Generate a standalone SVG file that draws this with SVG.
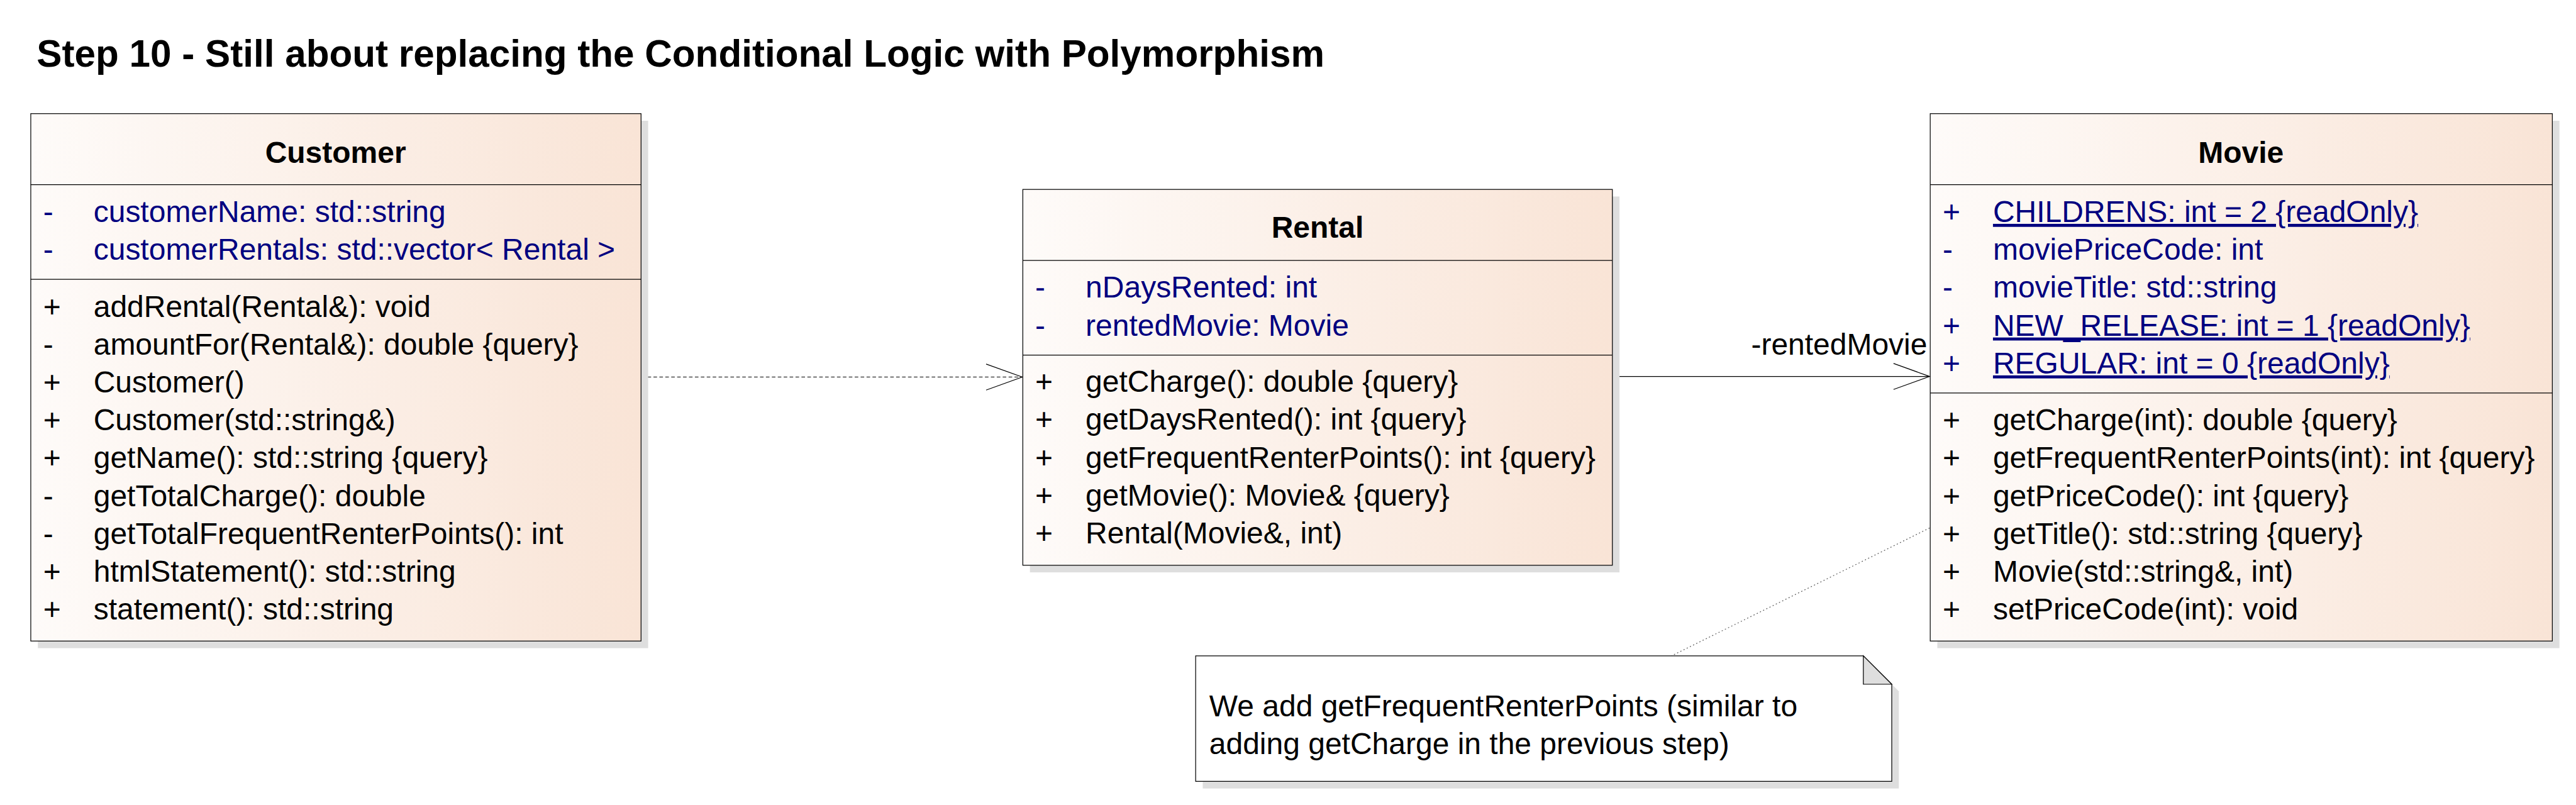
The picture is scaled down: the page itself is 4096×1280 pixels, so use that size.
<svg xmlns="http://www.w3.org/2000/svg" width="4096" height="1280" viewBox="0 0 4096 1280">
<defs>
<linearGradient id="boxfill" x1="0" y1="0" x2="1" y2="0">
<stop offset="0" stop-color="#fefbf9"/>
<stop offset="1" stop-color="#f9e4d6"/>
</linearGradient>
<marker id="openArrow" markerUnits="userSpaceOnUse" markerWidth="80" markerHeight="60" refX="62" refY="24" orient="auto" viewBox="0 0 80 60">
<path d="M1,2 L62,24 L1,46" fill="none" stroke="#000" stroke-width="1.3"/>
</marker>
</defs>
<style>
text{font-family:"Liberation Sans",Arial,sans-serif;font-size:51px;fill:#000}
.title{font-size:64px;font-weight:bold}
.cls{font-weight:bold;text-anchor:middle}
.attr{fill:#000080}
.static{text-decoration:underline}
.box{fill:url(#boxfill);stroke:#000;stroke-width:1.3}
.shadow{fill:#dedede}
.div{stroke:#000;stroke-width:1.3}
.note{fill:#fff;stroke:#000;stroke-width:1.3}
.fold{fill:#dedede;stroke:#000;stroke-width:1.3}
.dep{fill:none;stroke:#000;stroke-width:1.1;stroke-dasharray:6,4}
.assoc{fill:none;stroke:#000;stroke-width:1.3}
.anchor{fill:none;stroke:#555;stroke-width:1.3;stroke-dasharray:2,4}
</style>
<g transform="scale(0.941176)">
<text class="title" x="62" y="113">Step 10 - Still about replacing the Conditional Logic with Polymorphism</text>

<g id="connectors">
<line class="dep" x1="1084" y1="637" x2="1727" y2="637" marker-end="url(#openArrow)"/>
<line class="assoc" x1="2724" y1="636" x2="3260" y2="636" marker-end="url(#openArrow)"/>
<text x="3256" y="599" text-anchor="end">-rentedMovie</text>
<line class="anchor" x1="3260" y1="892" x2="2824" y2="1108"/>
</g>

<g id="Customer">
<rect class="shadow" x="64" y="204" width="1031" height="891"/>
<rect class="box" x="52" y="192" width="1031" height="891"/>
<line class="div" x1="52" y1="312" x2="1083" y2="312"/>
<line class="div" x1="52" y1="472" x2="1083" y2="472"/>
<text class="cls" x="567" y="275">Customer</text>
<text class="attr" x="73" y="375">-</text><text class="attr" x="158" y="375">customerName: std::string</text>
<text class="attr" x="73" y="439">-</text><text class="attr" x="158" y="439">customerRentals: std::vector&lt; Rental &gt;</text>
<text x="73" y="535">+</text><text x="158" y="535">addRental(Rental&amp;): void</text>
<text x="73" y="599">-</text><text x="158" y="599">amountFor(Rental&amp;): double {query}</text>
<text x="73" y="663">+</text><text x="158" y="663">Customer()</text>
<text x="73" y="727">+</text><text x="158" y="727">Customer(std::string&amp;)</text>
<text x="73" y="791">+</text><text x="158" y="791">getName(): std::string {query}</text>
<text x="73" y="855">-</text><text x="158" y="855">getTotalCharge(): double</text>
<text x="73" y="919">-</text><text x="158" y="919">getTotalFrequentRenterPoints(): int</text>
<text x="73" y="983">+</text><text x="158" y="983">htmlStatement(): std::string</text>
<text x="73" y="1047">+</text><text x="158" y="1047">statement(): std::string</text>
</g>

<g id="Rental">
<rect class="shadow" x="1740" y="332" width="996" height="635"/>
<rect class="box" x="1728" y="320" width="996" height="635"/>
<line class="div" x1="1728" y1="440" x2="2724" y2="440"/>
<line class="div" x1="1728" y1="600" x2="2724" y2="600"/>
<text class="cls" x="2226" y="402">Rental</text>
<text class="attr" x="1749" y="503">-</text><text class="attr" x="1834" y="503">nDaysRented: int</text>
<text class="attr" x="1749" y="567">-</text><text class="attr" x="1834" y="567">rentedMovie: Movie</text>
<text x="1749" y="662">+</text><text x="1834" y="662">getCharge(): double {query}</text>
<text x="1749" y="726">+</text><text x="1834" y="726">getDaysRented(): int {query}</text>
<text x="1749" y="790">+</text><text x="1834" y="790">getFrequentRenterPoints(): int {query}</text>
<text x="1749" y="854">+</text><text x="1834" y="854">getMovie(): Movie&amp; {query}</text>
<text x="1749" y="918">+</text><text x="1834" y="918">Rental(Movie&amp;, int)</text>
</g>

<g id="Movie">
<rect class="shadow" x="3273" y="204" width="1051" height="891"/>
<rect class="box" x="3261" y="192" width="1051" height="891"/>
<line class="div" x1="3261" y1="312" x2="4312" y2="312"/>
<line class="div" x1="3261" y1="664" x2="4312" y2="664"/>
<text class="cls" x="3786" y="275">Movie</text>
<text class="attr" x="3282" y="375">+</text><text class="attr static" x="3367" y="375">CHILDRENS: int = 2 {readOnly}</text>
<text class="attr" x="3282" y="439">-</text><text class="attr" x="3367" y="439">moviePriceCode: int</text>
<text class="attr" x="3282" y="503">-</text><text class="attr" x="3367" y="503">movieTitle: std::string</text>
<text class="attr" x="3282" y="567">+</text><text class="attr static" x="3367" y="567">NEW_RELEASE: int = 1 {readOnly}</text>
<text class="attr" x="3282" y="631">+</text><text class="attr static" x="3367" y="631">REGULAR: int = 0 {readOnly}</text>
<text x="3282" y="727">+</text><text x="3367" y="727">getCharge(int): double {query}</text>
<text x="3282" y="791">+</text><text x="3367" y="791">getFrequentRenterPoints(int): int {query}</text>
<text x="3282" y="855">+</text><text x="3367" y="855">getPriceCode(): int {query}</text>
<text x="3282" y="919">+</text><text x="3367" y="919">getTitle(): std::string {query}</text>
<text x="3282" y="983">+</text><text x="3367" y="983">Movie(std::string&amp;, int)</text>
<text x="3282" y="1047">+</text><text x="3367" y="1047">setPriceCode(int): void</text>
</g>

<g id="Note">
<polygon class="shadow" points="2032,1120 3160,1120 3208,1168 3208,1332 2032,1332"/>
<polygon class="note" points="2020,1108 3148,1108 3196,1156 3196,1320 2020,1320"/>
<polygon class="fold" points="3148,1108 3196,1156 3148,1156"/>
<text x="2043" y="1210">We add getFrequentRenterPoints (similar to</text>
<text x="2043" y="1274">adding getCharge in the previous step)</text>
</g>
</g>
</svg>
